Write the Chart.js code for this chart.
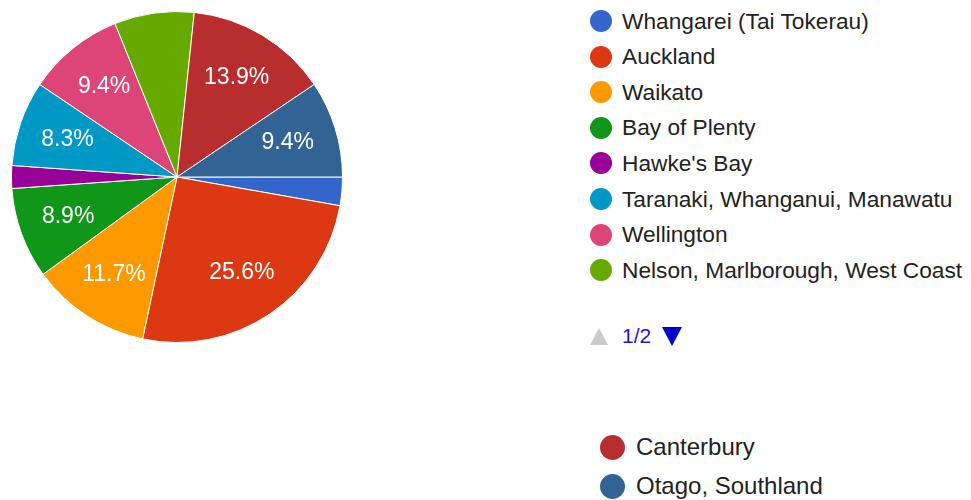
<!DOCTYPE html>
<html>
<head>
<meta charset="utf-8">
<script src="https://cdn.jsdelivr.net/npm/chart.js@4"></script>
<style>
  body { margin: 0; background: #fff; font-family: "Liberation Sans", Arial, sans-serif; }
  #wrap { position: relative; width: 971px; height: 500px; overflow: hidden; }
  #pieBox { position: absolute; left: 0; top: 0; width: 354px; height: 354px; }
  .item { position: absolute; display: flex; align-items: center; color: #222; white-space: nowrap; }
  .dot { border-radius: 50%; flex: none; }
  .pager { position: absolute; left: 590px; top: 321px; height: 30px; display: flex; align-items: center; font-size: 21px; color: #1a1acc; }
  .up { width: 0; height: 0; border-left: 9px solid transparent; border-right: 9px solid transparent; border-bottom: 17px solid #cbcbcb; margin-right: 14px; }
  .down { width: 0; height: 0; border-left: 10px solid transparent; border-right: 10px solid transparent; border-top: 19px solid #0000cc; margin-left: 11px; }
</style>
</head>
<body>
<div id="wrap">
  <div id="pieBox"><canvas id="pie"></canvas></div>
  <div id="legend"></div>
</div>
<script>
// regions and response counts (180 total)
const regions = [
    'Whangarei (Tai Tokerau)',
    'Auckland',
    'Waikato',
    'Bay of Plenty',
    "Hawke's Bay",
    'Taranaki, Whanganui, Manawatu',
    'Wellington',
    'Nelson, Marlborough, West Coast',
    'Canterbury',
    'Otago, Southland'
];
const counts = [5, 46, 21, 16, 4, 15, 17, 14, 25, 17];
const colours = ['#3366cc', '#dc3912', '#ff9900', '#109618', '#990099',
                 '#0099c6', '#dd4477', '#66aa00', '#b82e2e', '#316395'];

// percent text on the slices, small ones left blank like google charts does
const sliceLabels = {
    id: 'sliceLabels',
    afterDatasetsDraw(chart) {
        const ctx = chart.ctx;
        const meta = chart.getDatasetMeta(0);
        const total = counts.reduce((a, b) => a + b, 0);
        ctx.save();
        ctx.fillStyle = '#fff';
        ctx.font = '23px "Liberation Sans", Arial, sans-serif';
        ctx.textAlign = 'center';
        ctx.textBaseline = 'middle';
        meta.data.forEach((arc, i) => {
            const pct = counts[i] / total * 100;
            if (pct < 8) return;
            const mid = (arc.startAngle + arc.endAngle) / 2;
            const r = arc.outerRadius * 0.7;
            ctx.fillText(pct.toFixed(1) + '%', arc.x + Math.cos(mid) * r, arc.y + Math.sin(mid) * r);
        });
        ctx.restore();
    }
};

new Chart(document.getElementById('pie'), {
    type: 'pie',
    data: {
        labels: regions,
        datasets: [{
            data: counts,
            backgroundColor: colours,
            borderColor: '#fff',
            borderWidth: 1
        }]
    },
    options: {
        responsive: true,
        maintainAspectRatio: false,
        animation: false,
        rotation: 90,
        layout: { padding: 11 },
        plugins: {
            legend: { display: false },
            tooltip: { enabled: false }
        }
    },
    plugins: [sliceLabels]
});

// legend: first page of 8, pager, then the remaining 2 below
const legend = document.getElementById('legend');
function addItem(i, x, y, dot, size, gap) {
    const el = document.createElement('div');
    el.className = 'item';
    el.style.left = x + 'px';
    el.style.top = (y - 15) + 'px';
    el.style.height = '30px';
    el.style.fontSize = size + 'px';
    const d = document.createElement('span');
    d.className = 'dot';
    d.style.width = dot + 'px';
    d.style.height = dot + 'px';
    d.style.background = colours[i];
    d.style.marginRight = gap + 'px';
    el.appendChild(d);
    el.appendChild(document.createTextNode(regions[i]));
    legend.appendChild(el);
}
for (let i = 0; i < 8; i++) addItem(i, 590, 21 + i * 35.6, 22, 22.7, 10);
addItem(8, 600, 447, 25, 24, 11);
addItem(9, 600, 486, 25, 24, 11);

const pager = document.createElement('div');
pager.className = 'pager';
pager.innerHTML = '<span class="up"></span><span>1/2</span><span class="down"></span>';
legend.appendChild(pager);
</script>
</body>
</html>
